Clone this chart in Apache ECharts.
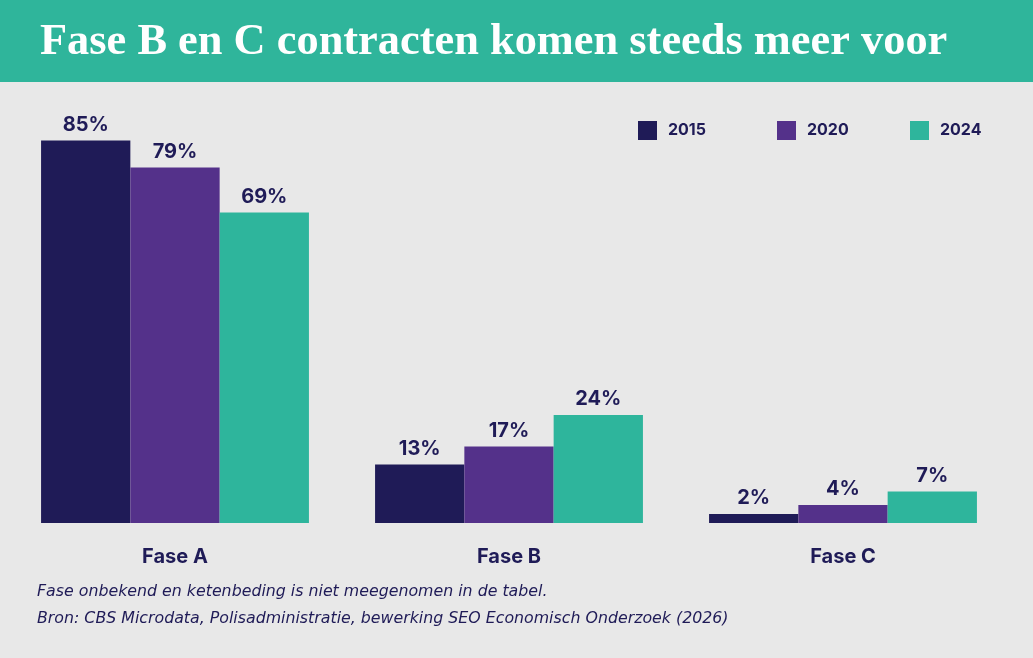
<!DOCTYPE html>
<html>
<head>
<meta charset="utf-8">
<script src="https://cdn.jsdelivr.net/npm/echarts@6/dist/echarts.min.js"></script>
<style>
	html, body { margin: 0; padding: 0; background: #e8e8e8; }
	#chart { width: 1033px; height: 658px; }
</style>
</head>
<body>
<div id="chart"></div>
<script>
// data
let categories = ['Fase A', 'Fase B', 'Fase C'];
let years = ['2015', '2020', '2024'];
let values_2015 = [85, 13, 2];
let values_2020 = [79, 17, 4];
let values_2024 = [69, 24, 7];
let colors = ['#1f1b57', '#54318a', '#2eb59c'];
let navy = '#1f1b57';

let chart = echarts.init(document.getElementById('chart'));

// one bar serie per jaar
let make_series = (name, data, color) => ({
	name: name,
	type: 'bar',
	data: data,
	barGap: 0,
	barCategoryGap: '19.8%',
	itemStyle: { color: color },
	label: {
		show: true,
		position: 'top',
		distance: 6,
		formatter: '{c}%',
		color: navy,
		fontFamily: 'Inter',
		fontWeight: 'bold',
		fontSize: 20,
	},
	emphasis: { disabled: true },
});

// legend per item zodat posities vast liggen
let legend_left = [638, 777, 910];
let legends = years.map((y, i) => ({
	data: [y],
	left: legend_left[i],
	top: 121,
	padding: 0,
	itemWidth: 19,
	itemHeight: 19,
	icon: 'rect',
	selectedMode: false,
	textStyle: {
		color: navy,
		fontFamily: 'Inter',
		fontWeight: 'bold',
		fontSize: 16,
		padding: [0, 0, 0, 6],
	},
}));

let option = {
	backgroundColor: '#e8e8e8',
	animation: false,
	title: {
		text: 'Fase B en C contracten komen steeds meer voor',
		left: 40,
		top: 21,
		padding: 0,
		textStyle: {
			color: '#ffffff',
			fontFamily: 'Liberation Serif',
			fontWeight: 'bold',
			fontSize: 44.4,
		},
	},
	legend: legends,
	grid: { left: 8, right: 23, top: 73, bottom: 135 },
	xAxis: {
		type: 'category',
		data: categories,
		axisLine: { show: false },
		axisTick: { show: false },
		axisLabel: {
			margin: 24,
			color: navy,
			fontFamily: 'Inter',
			fontWeight: 'bold',
			fontSize: 20,
		},
	},
	yAxis: {
		type: 'value',
		min: 0,
		max: 100,
		show: false,
		splitLine: { show: false },
	},
	series: [
		make_series(years[0], values_2015, colors[0]),
		make_series(years[1], values_2020, colors[1]),
		make_series(years[2], values_2024, colors[2]),
	],
	graphic: [
		{
			type: 'rect',
			z: -1,
			shape: { x: 0, y: 0, width: 1033, height: 82 },
			style: { fill: '#2fb59b' },
		},
		{
			type: 'text',
			left: 37,
			top: 584,
			style: {
				text: 'Fase onbekend en ketenbeding is niet meegenomen in de tabel.',
				fill: navy,
				fontFamily: 'DejaVu Sans',
				fontStyle: 'italic',
				fontSize: 15.8,
			},
		},
		{
			type: 'text',
			left: 37,
			top: 611,
			style: {
				text: 'Bron: CBS Microdata, Polisadministratie, bewerking SEO Economisch Onderzoek (2026)',
				fill: navy,
				fontFamily: 'DejaVu Sans',
				fontStyle: 'italic',
				fontSize: 15.8,
			},
		},
	],
};

chart.setOption(option);
</script>
</body>
</html>
